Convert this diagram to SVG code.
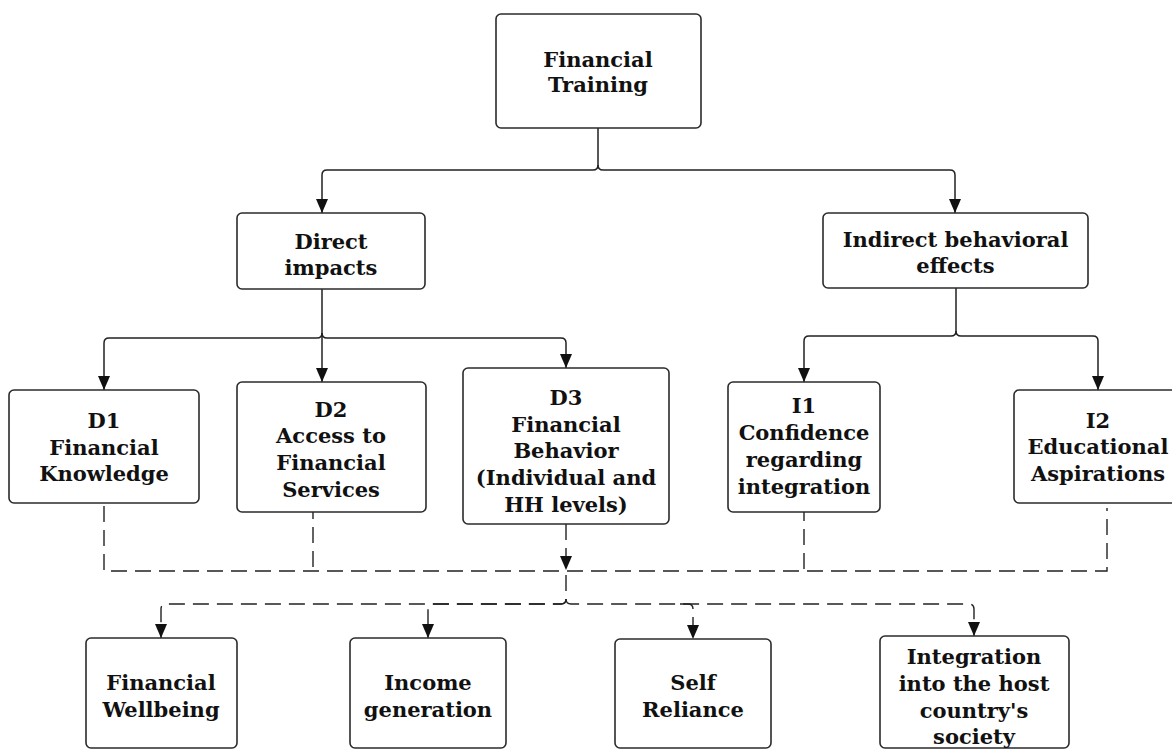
<svg xmlns="http://www.w3.org/2000/svg" width="1172" height="751" viewBox="0 0 1172 751">
<style>
.box{fill:#fff;stroke:#2b2b2b;stroke-width:1.6}
.t{font-family:"DejaVu Serif","Liberation Serif",serif;font-weight:bold;font-size:21px;fill:#111;text-anchor:middle}
.c{fill:none;stroke:#222;stroke-width:1.5}
.d{fill:none;stroke:#222;stroke-width:1.4;stroke-dasharray:16 8}
</style>
<defs>
<marker id="ah" viewBox="0 0 14 12" refX="14" refY="6" markerWidth="14" markerHeight="12" markerUnits="userSpaceOnUse" orient="auto">
<path d="M0,0 L14,6 L0,12 z" fill="#111"/>
</marker>
</defs>
<rect width="1172" height="751" fill="#fff"/>
<g id="connectors">
<path class="c" d="M598,128 V165 Q598,170 593,170 H327 Q322,170 322,175 V213" marker-end="url(#ah)"/>
<path class="c" d="M598,165 Q598,170 603,170 H950 Q955,170 955,175 V213" marker-end="url(#ah)"/>
<path class="c" d="M322,289 V333 Q322,338 317,338 H109 Q104,338 104,343 V390" marker-end="url(#ah)"/>
<path class="c" d="M322,333 Q322,338 327,338 H561 Q566,338 566,343 V368" marker-end="url(#ah)"/>
<path class="c" d="M322,333 V382" marker-end="url(#ah)"/>
<path class="c" d="M956,288 V331 Q956,336 951,336 H809 Q804,336 804,341 V382" marker-end="url(#ah)"/>
<path class="c" d="M956,331 Q956,336 961,336 H1093 Q1098,336 1098,341 V390" marker-end="url(#ah)"/>
<path class="d" d="M104,506 V571 H1107 V508"/>
<path class="d" d="M313,503 V571"/>
<path class="d" d="M804,505 V571"/>
<path class="d" d="M566,524 V570" marker-end="url(#ah)"/>
<path class="d" d="M566,575 V599"/>
<path class="d" d="M566,599 Q566,604 561,604 H166 Q161,604 161,609 V638" marker-end="url(#ah)"/>
<path class="d" d="M566,599 Q566,604 561,604 H433 Q428,604 428,609 V638" marker-end="url(#ah)"/>
<path class="d" d="M566,599 Q566,604 571,604 H969 Q974,604 974,609 V636" marker-end="url(#ah)"/>
<path class="d" d="M680,604 H688 Q693,604 693,609 V639" marker-end="url(#ah)"/>
</g>
<g id="n-training"><rect class="box" x="496" y="14" width="205" height="114" rx="5"/><text class="t" x="598" y="67">Financial</text><text class="t" x="598" y="92">Training</text></g>
<g id="n-direct"><rect class="box" x="237" y="213" width="188" height="76" rx="5"/><text class="t" x="331" y="249">Direct</text><text class="t" x="331" y="275">impacts</text></g>
<g id="n-indirect"><rect class="box" x="823" y="213" width="265" height="75" rx="5"/><text class="t" x="955.5" y="247">Indirect behavioral</text><text class="t" x="955.5" y="273">effects</text></g>
<g id="n-d1"><rect class="box" x="9" y="390" width="190" height="113" rx="5"/><text class="t" x="104" y="428">D1</text><text class="t" x="104" y="455">Financial</text><text class="t" x="104" y="481">Knowledge</text></g>
<g id="n-d2"><rect class="box" x="237" y="382" width="189" height="130" rx="5"/><text class="t" x="331" y="417">D2</text><text class="t" x="331" y="443">Access to</text><text class="t" x="331" y="470">Financial</text><text class="t" x="331" y="497">Services</text></g>
<g id="n-d3"><rect class="box" x="463" y="368" width="206" height="156" rx="5"/><text class="t" x="566" y="405">D3</text><text class="t" x="566" y="432">Financial</text><text class="t" x="566" y="458">Behavior</text><text class="t" x="566" y="485">(Individual and</text><text class="t" x="566" y="512">HH levels)</text></g>
<g id="n-i1"><rect class="box" x="728" y="382" width="152" height="130" rx="5"/><text class="t" x="804" y="413">I1</text><text class="t" x="804" y="440">Confidence</text><text class="t" x="804" y="467">regarding</text><text class="t" x="804" y="494">integration</text></g>
<g id="n-i2"><rect class="box" x="1014" y="390" width="168" height="113" rx="5"/><text class="t" x="1098" y="428">I2</text><text class="t" x="1098" y="454">Educational</text><text class="t" x="1098" y="481">Aspirations</text></g>
<g id="n-wellbeing"><rect class="box" x="86" y="638" width="151" height="110" rx="5"/><text class="t" x="161" y="690">Financial</text><text class="t" x="161" y="717">Wellbeing</text></g>
<g id="n-income"><rect class="box" x="350" y="638" width="156" height="110" rx="5"/><text class="t" x="428" y="690">Income</text><text class="t" x="428" y="717">generation</text></g>
<g id="n-self"><rect class="box" x="615" y="639" width="156" height="109" rx="5"/><text class="t" x="693" y="690">Self</text><text class="t" x="693" y="717">Reliance</text></g>
<g id="n-integration"><rect class="box" x="880" y="636" width="189" height="112" rx="5"/><text class="t" x="974" y="664">Integration</text><text class="t" x="974" y="691">into the host</text><text class="t" x="974" y="718">country's</text><text class="t" x="974" y="744">society</text></g>
</svg>
